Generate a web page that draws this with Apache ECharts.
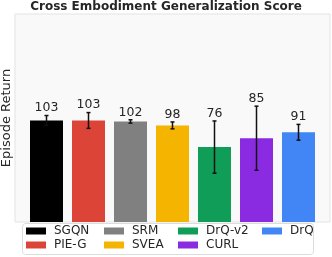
<!DOCTYPE html>
<html><head><meta charset="utf-8">
<script src="https://cdn.jsdelivr.net/npm/echarts@6/dist/echarts.min.js"></script>
<style>html,body{margin:0;padding:0;background:#fff}#c{width:332px;height:257px}</style>
</head><body><div id="c"></div>
<script>
const methods = ['SGQN','PIE-G','SRM','SVEA','DrQ-v2','CURL','DrQ'];
const scores = [103, 103, 102, 98, 76, 85, 91];
const errors = [5, 8, 1.7, 3.5, 26.5, 32.5, 8];
const colors = ['#000000','#db4437','#808080','#f4b400','#0f9d58','#8a2be2','#4285f4'];
const legendOrder = [['SGQN','PIE-G'],['SRM','SVEA'],['DrQ-v2','CURL'],['DrQ']];

const FONT = 'DejaVu Sans';
const chart = echarts.init(document.getElementById('c'), null, {renderer:'canvas'});

const series = methods.map((m,i)=>({
  name: m, type:'bar', barWidth:33, barGap:'-100%', xAxisIndex:1, yAxisIndex:1,
  itemStyle:{color:colors[i]},
  data: methods.map((_,j)=> j===i ? scores[i] : '-'), silent:true, animation:false
}));
series.push({
  type:'custom', animation:false, silent:true, xAxisIndex:1, yAxisIndex:1, z:5,
  data: methods.map((m,i)=>[i, scores[i], errors[i]]),
  renderItem:(params, api)=>{
    const x = api.value(0), v = api.value(1), e = api.value(2);
    const top = api.coord([x, v+e]), bot = api.coord([x, v-e]);
    const cap = 2;
    const st = {stroke:'#111', lineWidth:1.5};
    return {type:'group', children:[
      {type:'line', shape:{x1:top[0],y1:top[1],x2:bot[0],y2:bot[1]}, style:st},
      {type:'line', shape:{x1:top[0]-cap,y1:top[1],x2:top[0]+cap,y2:top[1]}, style:st},
      {type:'line', shape:{x1:bot[0]-cap,y1:bot[1],x2:bot[0]+cap,y2:bot[1]}, style:st},
      {type:'text', x:top[0], y:top[1]-1, style:{text:String(Math.round(v)), align:'center', verticalAlign:'bottom', fontFamily:FONT, fontSize:12.5, fill:'#262626'}}
    ]};
  }
});

const colX = [26, 104, 178, 262];
const rowTop = [224, 238];
const legends = [];
legendOrder.forEach((col,ci)=>col.forEach((name,ri)=>{
  legends.push({
    data:[name], left:colX[ci], top:rowTop[ri], icon:'rect', itemWidth:20, itemHeight:7,
    padding:0, itemGap:0, selectedMode:false, z:10,
    textStyle:{fontFamily:FONT, fontSize:12, color:'#262626', lineHeight:14, padding:[0,0,0,3]}
  });
}));

chart.setOption({
  animation:false,
  title:{text:'Cross Embodiment Generalization Score', left:'center', top:1, padding:[0,0,0,13],
    textStyle:{fontFamily:FONT, fontSize:12, fontWeight:'bold', color:'#262626'}},
  grid:[
    {left:15, right:2, top:14, bottom:35, show:true, backgroundColor:'#f9f9f9', borderColor:'#e3e3e3', borderWidth:1},
    {left:25.5, right:12.5, top:14, bottom:35}
  ],
  xAxis:[
    {type:'value', gridIndex:0, min:0, max:1, show:false},
    {type:'category', gridIndex:1, data:methods, show:false}
  ],
  yAxis:[
    {type:'value', gridIndex:0, min:0, max:211, show:false},
    {type:'value', gridIndex:1, min:0, max:211, show:false}
  ],
  graphic:[
    {type:'rect', left:22, top:223, shape:{width:291, height:31, r:3}, style:{fill:'#ffffff', stroke:'#dcdcdc', lineWidth:1}, z:3},
    {type:'text', x:7, y:118, rotation:Math.PI/2, style:{text:'Episode Return', align:'center', verticalAlign:'middle', fontFamily:FONT, fontSize:13, fill:'#262626'}, z:3}
  ],
  legend:legends,
  series:series
});
</script></body></html>
